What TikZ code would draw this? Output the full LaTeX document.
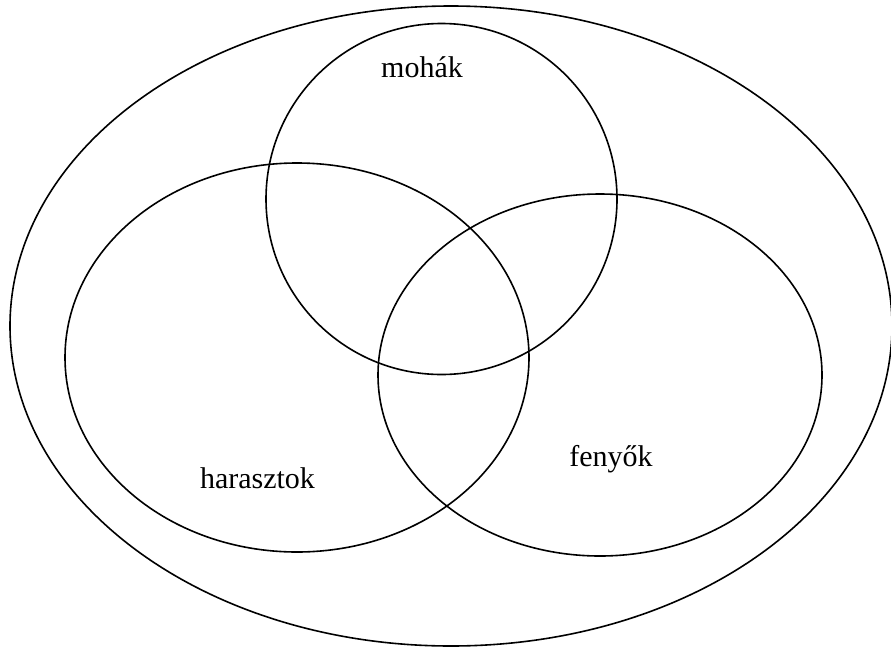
\documentclass[tikz,border=0pt]{standalone}
\usepackage{fontspec}
\setmainfont{Liberation Serif}
\begin{document}
\begin{tikzpicture}[x=1pt,y=-1pt,
  setline/.style={line width=1.6pt, black},
  lbl/.style={font=\fontsize{30}{36}\selectfont, anchor=base, inner sep=0pt}]
\useasboundingbox (0,0) rectangle (891,648);
\draw[setline] (451,326) ellipse [x radius=441, y radius=320];
\draw[setline] (441.5,199) circle [radius=175.5];
\draw[setline] (297,357.5) ellipse [x radius=232, y radius=194.5];
\draw[setline] (600,375) ellipse [x radius=222, y radius=181];
\node[lbl] (moha) at (422,77) {mohák};
\node[lbl] (haraszt) at (257.5,488) {harasztok};
\node[lbl] (fenyo) at (611,466) {fenyők};
\end{tikzpicture}
\end{document}
